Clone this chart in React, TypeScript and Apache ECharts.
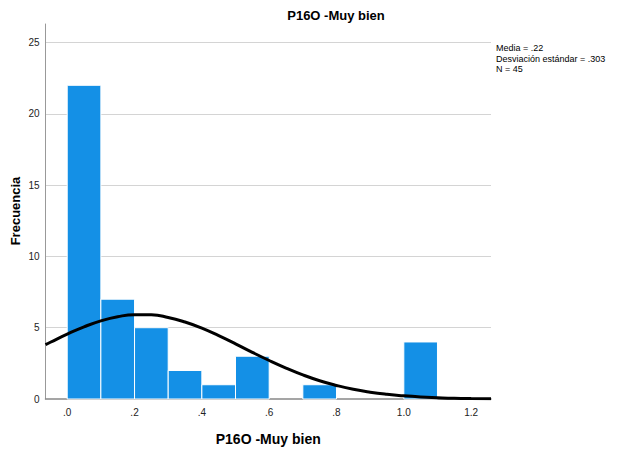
import React, { useEffect, useRef } from "react";
import * as echarts from "echarts";

const chartTitle = "P16O -Muy bien";
const xAxisName = "P16O -Muy bien";
const yAxisName = "Frecuencia";
const statsLines = ["Media = .22", "Desviación estándar = .303", "N = 45"];

// histogram bins (width .1)
const binStarts = [0.0, 0.1, 0.2, 0.3, 0.4, 0.5, 0.6, 0.7, 0.8, 0.9, 1.0];
const binWidth = 0.1;
const binCounts = [22, 7, 5, 2, 1, 3, 0, 1, 0, 0, 4];

// normal curve
const curveX = [-0.0645, -0.05, 0.0, 0.05, 0.1, 0.15, 0.2, 0.25, 0.3, 0.35, 0.4, 0.45, 0.5, 0.55, 0.6, 0.65, 0.7, 0.75, 0.8, 0.85, 0.9, 0.95, 1.0, 1.05, 1.1, 1.15, 1.2, 1.259];
const curveY = [3.81, 3.98, 4.55, 5.06, 5.48, 5.77, 5.91, 5.9, 5.72, 5.4, 4.97, 4.44, 3.87, 3.27, 2.7, 2.17, 1.69, 1.28, 0.95, 0.68, 0.48, 0.33, 0.22, 0.14, 0.09, 0.05, 0.03, 0.02];

const xTickValues = [0, 0.2, 0.4, 0.6, 0.8, 1.0, 1.2];

const FONT = "'Liberation Sans', Arial, sans-serif";

export default function App() {
  const ref = useRef<HTMLDivElement>(null);
  useEffect(() => {
    if (!ref.current) return;
    const chart = echarts.init(ref.current, null, { renderer: "svg" });
    const barData = binStarts.map((s, i) => [s, s + binWidth, binCounts[i]]);
    const option: any = {
      animation: false,
      backgroundColor: "#ffffff",
      textStyle: { fontFamily: FONT },
      title: {
        text: chartTitle,
        left: 331,
        top: 4,
        textAlign: "center",
        textStyle: { fontFamily: FONT, fontSize: 13, fontWeight: "bold", color: "#000" },
      },
      grid: { left: 45.5, right: 130, top: 24, bottom: 52, outerBoundsMode: "none", containLabel: false },
      xAxis: {
        type: "value",
        min: -0.0645,
        max: 1.259,
        name: xAxisName,
        nameLocation: "middle",
        nameGap: 33,
        nameTextStyle: { fontFamily: FONT, fontSize: 14, fontWeight: "bold", color: "#000" },
        axisLine: { show: true, onZero: false, lineStyle: { color: "#888", width: 1.5 } },
        axisTick: { show: false },
        splitLine: { show: false },
        axisLabel: {
          customValues: xTickValues,
          margin: 8,
          fontSize: 10,
          color: "#222",
          fontFamily: FONT,
          formatter: (v: number) => {
            const s = v.toFixed(1);
            return s.startsWith("0") ? s.slice(1) : s;
          },
        },
      },
      yAxis: {
        type: "value",
        min: 0,
        max: 26.3,
        interval: 5,
        axisLine: { show: true, onZero: false, lineStyle: { color: "#999", width: 1 } },
        axisTick: { show: false },
        splitLine: { show: true, showMaxLine: false, showMinLine: false, lineStyle: { color: "#d4d4d4", width: 1.2 } },
        axisLabel: { showMaxLabel: false, margin: 6, fontSize: 10, color: "#222", fontFamily: FONT },
      },
      series: [
        {
          type: "custom",
          z: 2,
          data: barData,
          encode: { x: [0, 1], y: 2 },
          renderItem: (params: any, api: any) => {
            const x0 = api.value(0);
            const x1 = api.value(1);
            const c = api.value(2);
            if (!c) return null;
            const p0 = api.coord([x0, c]);
            const p1 = api.coord([x1, 0]);
            return {
              type: "rect",
              shape: { x: p0[0], y: p0[1], width: p1[0] - p0[0], height: p1[1] - p0[1] },
              style: { fill: "#1490e6", stroke: "#ffffff", lineWidth: 1 },
            };
          },
        },
        {
          type: "line",
          z: 3,
          data: curveX.map((x, i) => [x, curveY[i]]),
          smooth: true,
          symbol: "none",
          lineStyle: { color: "#000", width: 3 },
        },
      ],
      graphic: [
        {
          type: "text",
          x: 15,
          y: 211,
          rotation: Math.PI / 2,
          style: {
            text: yAxisName,
            font: `bold 13px ${FONT}`,
            fill: "#000",
            align: "center",
            verticalAlign: "middle",
          },
        },
        {
          type: "text",
          left: 496,
          top: 43,
          style: {
            text: statsLines.join("\n"),
            font: `9px ${FONT}`,
            lineHeight: 10.5,
            fill: "#000",
          },
        },
      ],
    };
    chart.setOption(option);
    return () => chart.dispose();
  }, []);
  return (
    <div
      ref={ref}
      style={{ position: "fixed", left: 0, top: 0, width: 621, height: 451, background: "#fff" }}
    />
  );
}
